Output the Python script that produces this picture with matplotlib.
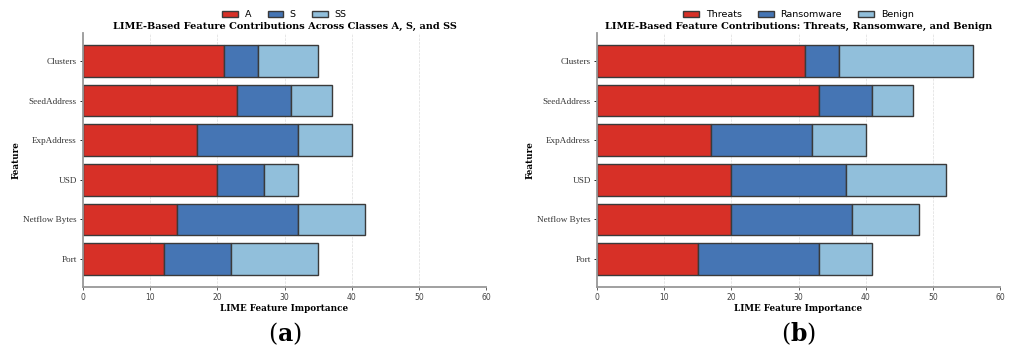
import numpy as np
import matplotlib
matplotlib.use("Agg")
import matplotlib.pyplot as plt

plt.rcParams["mathtext.fontset"] = "dejavuserif"

# data
features = ["Port", "Netflow Bytes", "USD", "ExpAddress", "SeedAddress", "Clusters"]

labels_a = ["A", "S", "SS"]
a_A = [12, 14, 20, 17, 23, 21]
a_S = [10, 18, 7, 15, 8, 5]
a_SS = [13, 10, 5, 8, 6, 9]

labels_b = ["Threats", "Ransomware", "Benign"]
b_threats = [15, 20, 20, 17, 33, 31]
b_ransom = [18, 18, 17, 15, 8, 5]
b_benign = [8, 10, 15, 8, 6, 20]

colors = ["#d73027", "#4575b4", "#91bfdb"]

fig = plt.figure(figsize=(10.11, 3.49), dpi=100)
ax1 = fig.add_axes([83 / 1011, 1 - 287 / 349, 403 / 1011, 254 / 349])
ax2 = fig.add_axes([597 / 1011, 1 - 287 / 349, 403 / 1011, 254 / 349])


def draw(ax, series, names, title, tag):
    y = np.arange(len(features))
    left = np.zeros(len(features))
    for vals, name, c in zip(series, names, colors):
        ax.barh(y, vals, left=left, height=0.8, color=c, edgecolor="#3a3a3a",
                linewidth=1.0, label=name)
        left += np.array(vals)
    ax.set_xlim(0, 60)
    ax.set_ylim(-0.71, 5.71)
    ax.set_yticks(y)
    ax.set_yticklabels(features, fontsize=6.6, family="Liberation Serif", color="#333333")
    ax.tick_params(axis="x", labelsize=5.5, length=2.5, width=0.6, colors="#444444", pad=2)
    ax.tick_params(axis="y", length=2.5, width=0.6, pad=2)
    ax.set_xlabel("LIME Feature Importance", fontsize=6.3, fontweight="bold",
                  family="DejaVu Serif", labelpad=1)
    ax.set_ylabel("Feature", fontsize=6.3, fontweight="bold", family="DejaVu Serif",
                  labelpad=1.5)
    ax.set_title(title, fontsize=7.0, fontweight="bold", family="DejaVu Serif", pad=3)
    ax.grid(axis="x", linestyle="--", linewidth=0.5, color="#dddddd")
    ax.set_axisbelow(True)
    for s in ["top", "right"]:
        ax.spines[s].set_visible(False)
    for s in ["left", "bottom"]:
        ax.spines[s].set_color("#999999")
        ax.spines[s].set_linewidth(1.3)
    ax.legend(loc="lower center", bbox_to_anchor=(0.5, 1.055), ncol=3, frameon=False,
              fontsize=6.8, handlelength=1.65, handleheight=0.6, columnspacing=1.75,
              handletextpad=0.7, borderaxespad=0, borderpad=0)
    ax.text(0.5, -0.185, tag, transform=ax.transAxes, ha="center", va="center",
            fontsize=17, family="DejaVu Serif")


draw(ax1, [a_A, a_S, a_SS], labels_a,
     "LIME-Based Feature Contributions Across Classes A, S, and SS", r"($\mathbf{a}$)")
draw(ax2, [b_threats, b_ransom, b_benign], labels_b,
     "LIME-Based Feature Contributions: Threats, Ransomware, and Benign", r"($\mathbf{b}$)")

fig.savefig("out.png", dpi=100)
